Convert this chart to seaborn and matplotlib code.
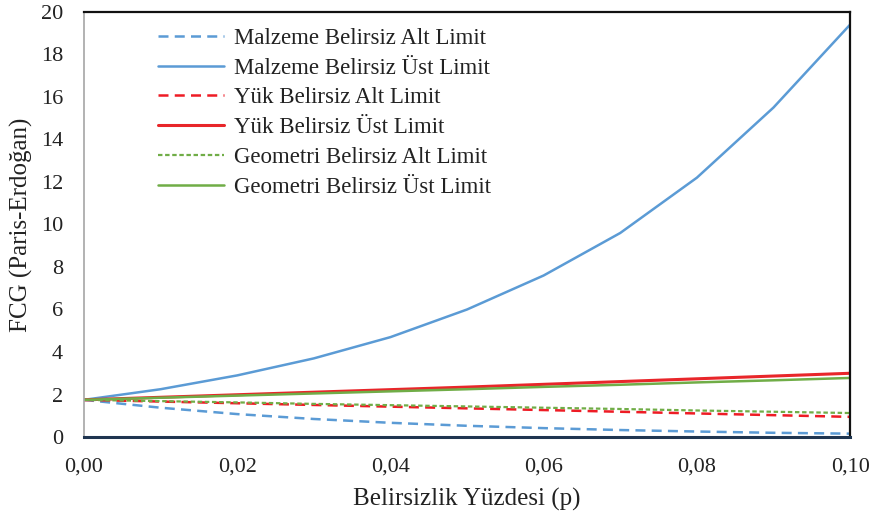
import matplotlib
matplotlib.use("Agg")
import matplotlib.pyplot as plt
import seaborn as sns
import pandas as pd
import numpy as np
from matplotlib.ticker import FuncFormatter, MultipleLocator

p = [0.00, 0.01, 0.02, 0.03, 0.04, 0.05, 0.06, 0.07, 0.08, 0.09, 0.10]
malzeme_alt = [1.75, 1.38, 1.08, 0.85, 0.67, 0.53, 0.42, 0.33, 0.26, 0.20, 0.16]
malzeme_ust = [1.75, 2.25, 2.90, 3.70, 4.70, 6.00, 7.60, 9.60, 12.20, 15.50, 19.40]
yuk_alt = [1.75, 1.67, 1.59, 1.51, 1.43, 1.35, 1.27, 1.19, 1.11, 1.03, 0.95]
yuk_ust = [1.75, 1.87, 1.99, 2.11, 2.23, 2.35, 2.48, 2.61, 2.74, 2.87, 3.00]
geo_alt = [1.75, 1.69, 1.63, 1.56, 1.50, 1.44, 1.38, 1.32, 1.25, 1.19, 1.13]
geo_ust = [1.75, 1.85, 1.95, 2.05, 2.15, 2.25, 2.36, 2.46, 2.57, 2.67, 2.78]

labels = ["Malzeme Belirsiz Alt Limit", "Malzeme Belirsiz Üst Limit",
          "Yük Belirsiz Alt Limit", "Yük Belirsiz Üst Limit",
          "Geometri Belirsiz Alt Limit", "Geometri Belirsiz Üst Limit"]
series = [malzeme_alt, malzeme_ust, yuk_alt, yuk_ust, geo_alt, geo_ust]
colors = ["#5b9bd5", "#5b9bd5", "#ee1c25", "#e8262a", "#70ad47", "#70ad47"]
dashes = [(4, 2.5), None, (4, 2.5), None, (2, 1.2), None]
widths = [1.8, 1.8, 1.8, 2.2, 1.6, 1.8]

sns.set_theme(style="white")
plt.rcParams['font.family'] = ['Liberation Serif', 'DejaVu Serif']

fig = plt.figure(figsize=(8.71, 5.16), dpi=100)
ax = fig.add_axes([0.0964, 0.153, 0.8796, 0.824])

for lab, ys, c, d, w in zip(labels, series, colors, dashes, widths):
    df = pd.DataFrame({"p": p, "FCG": ys})
    sns.lineplot(data=df, x="p", y="FCG", ax=ax, color=c, linewidth=w, label=lab)
    ln = ax.get_lines()[-1]
    if d is not None:
        ln.set_dashes(d)

ax.set_xlim(0, 0.10)
ax.set_ylim(0, 20)
ax.xaxis.set_major_locator(MultipleLocator(0.02))
ax.yaxis.set_major_locator(MultipleLocator(2))
ax.xaxis.set_major_formatter(FuncFormatter(lambda v, _: f"{v:.2f}".replace(".", ",")))
ax.yaxis.set_major_formatter(FuncFormatter(lambda v, _: f"{v:.0f}"))
ax.tick_params(axis="both", length=0, labelsize=16, colors="#222222")
ax.tick_params(axis="y", pad=15)
ax.tick_params(axis="x", pad=15)

ax.set_xlabel("Belirsizlik Yüzdesi (p)", fontsize=18, color="#222222", labelpad=8)
ax.set_ylabel("FCG (Paris-Erdoğan)", fontsize=18, color="#222222", labelpad=6)

for s in ["top", "right"]:
    ax.spines[s].set_color("#111111")
    ax.spines[s].set_linewidth(1.6)
ax.spines["left"].set_color("#a6a6a6")
ax.spines["left"].set_linewidth(1.2)
ax.spines["bottom"].set_color("#1f3550")
ax.spines["bottom"].set_linewidth(2.2)

leg = ax.legend(loc="upper left", bbox_to_anchor=(0.076, 1.0), frameon=False,
                fontsize=16.5, handlelength=2.85, handletextpad=0.45,
                labelspacing=0.38, borderaxespad=0.3)
for t in leg.get_texts():
    t.set_color("#222222")

fig.savefig("out.png", dpi=100, facecolor="white")
